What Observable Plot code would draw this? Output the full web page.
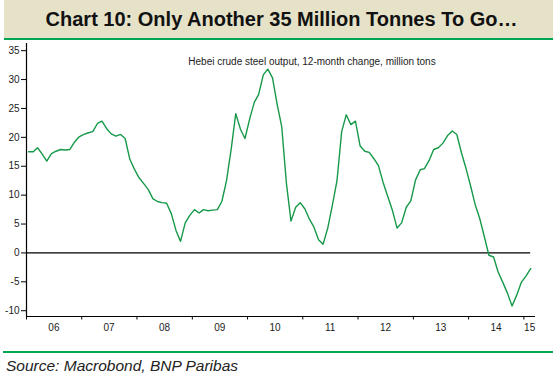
<!DOCTYPE html>
<html><head><meta charset="utf-8">
<script src="https://cdn.jsdelivr.net/npm/d3@7"></script>
<script src="https://cdn.jsdelivr.net/npm/@observablehq/plot@0.6"></script>
<style>
body{margin:0;width:553px;height:380px;background:#fff;font-family:Arial,"Liberation Sans",sans-serif;position:relative;overflow:hidden}
#title{position:absolute;left:4px;top:0;width:549px;height:38px;background:#e5e2c8;border-bottom:2px solid #00a651;}
#title span{position:absolute;left:0;right:0;top:8px;text-align:center;font-weight:bold;font-size:20px;color:#111;white-space:nowrap;padding-left:6px}
#chart{position:absolute;left:0;top:40px;}
#sep{position:absolute;left:3px;top:351px;width:550px;height:0;border-top:2px solid #00a651}
#source{position:absolute;left:6px;top:357px;font-style:italic;font-size:15.5px;color:#222;white-space:nowrap}
</style></head>
<body>
<div id="title"><span>Chart 10: Only Another 35 Million Tonnes To Go…</span></div>
<div id="chart"></div>
<div id="sep"></div>
<div id="source">Source: Macrobond, BNP Paribas</div>
<script>
// Hebei crude steel output, 12-month change, million tons (monthly, Jan 2006 - Feb 2015)
const v2006 = [17.5, 17.5, 18.2, 17.1, 15.9, 17.2, 17.6, 17.9, 17.8, 17.9, 19.2, 20.1];
const v2007 = [20.5, 20.8, 21.0, 22.4, 22.8, 21.5, 20.6, 20.2, 20.5, 19.8, 16.2, 14.5];
const v2008 = [13.0, 12.0, 11.0, 9.4, 8.9, 8.7, 8.6, 6.8, 3.9, 2.0, 5.2, 6.5];
const v2009 = [7.5, 6.9, 7.5, 7.3, 7.4, 7.5, 8.9, 12.5, 18.0, 24.1, 21.4, 19.8];
const v2010 = [23.2, 26.1, 27.4, 30.8, 31.8, 30.3, 25.8, 21.8, 12.0, 5.5, 7.9, 8.7];
const v2011 = [7.6, 5.8, 4.5, 2.3, 1.5, 4.3, 8.2, 12.5, 21.0, 23.9, 22.2, 22.8];
const v2012 = [18.5, 17.6, 17.4, 16.3, 15.1, 12.2, 9.8, 7.4, 4.3, 5.2, 7.9, 9.0];
const v2013 = [12.6, 14.4, 14.6, 16.0, 17.9, 18.2, 19.0, 20.3, 21.1, 20.5, 17.3, 14.6];
const v2014 = [11.5, 8.2, 6.0, 2.8, -0.4, -0.7, -3.3, -5.1, -7.0, -9.2, -7.3, -5.1];
const v2015 = [-4.0, -2.7];
const years = [2006, 2007, 2008, 2009, 2010, 2011, 2012, 2013, 2014, 2015];
const yearValues = [v2006, v2007, v2008, v2009, v2010, v2011, v2012, v2013, v2014, v2015];
const xTickLabels = ["06", "07", "08", "09", "10", "11", "12", "13", "14", "15"];
const yTicks = [-10, -5, 0, 5, 10, 15, 20, 25, 30, 35];
const annotation = "Hebei crude steel output, 12-month change, million tons";

const data = [];
years.forEach((yr, i) => yearValues[i].forEach((v, m) => data.push({date: new Date(Date.UTC(yr, m, 15)), value: v})));

const xDomain = [new Date(Date.UTC(2006, 0, 1)), new Date(Date.UTC(2015, 2, 19))];
const yDomain = [-11, 36.24];
const yearStarts = years.map(y => new Date(Date.UTC(y, 0, 1)));
const labelDates = years.map((y, i) => i < years.length - 1
  ? new Date(Date.UTC(y, 6, 1))
  : new Date((yearStarts[i].getTime() + xDomain[1].getTime()) / 2));
const labelOf = new Map(labelDates.map((d, i) => [+d, xTickLabels[i]]));
const lastDate = data[data.length - 1].date;

const font = "Arial, 'Liberation Sans', sans-serif";
const plot = Plot.plot({
  width: 553, height: 312,
  marginLeft: 26, marginRight: 18, marginTop: 3, marginBottom: 36,
  style: {fontFamily: font, fontSize: "10px", color: "#222", background: "transparent", overflow: "visible"},
  x: {type: "utc", domain: xDomain, axis: null},
  y: {domain: yDomain, axis: null},
  marks: [
    Plot.ruleY([0], {x1: xDomain[0], x2: lastDate, stroke: "#000", strokeWidth: 1.2}),
    Plot.lineY(data, {x: "date", y: "value", stroke: "#17994a", strokeWidth: 1.4}),
    Plot.ruleX([xDomain[0]], {stroke: "#000", strokeWidth: 1.2}),
    Plot.ruleY([yDomain[0]], {stroke: "#000", strokeWidth: 1.2}),
    Plot.axisY({ticks: yTicks, label: null, tickSize: 5, tickPadding: 2, tickFormat: d => String(d), fontSize: 10, stroke: "#000"}),
    Plot.axisX({ticks: yearStarts, label: null, tickSize: 3.5, tickFormat: () => "", stroke: "#000"}),
    Plot.axisX({ticks: labelDates, label: null, tickSize: 0, tickPadding: 7, tickFormat: d => labelOf.get(+d), fontSize: 10}),
    Plot.text([annotation], {frameAnchor: "top", dx: 31, dy: 18.5, lineAnchor: "middle", fontSize: 10, fill: "#222"})
  ]
});
document.getElementById("chart").appendChild(plot);
</script>
</body></html>
